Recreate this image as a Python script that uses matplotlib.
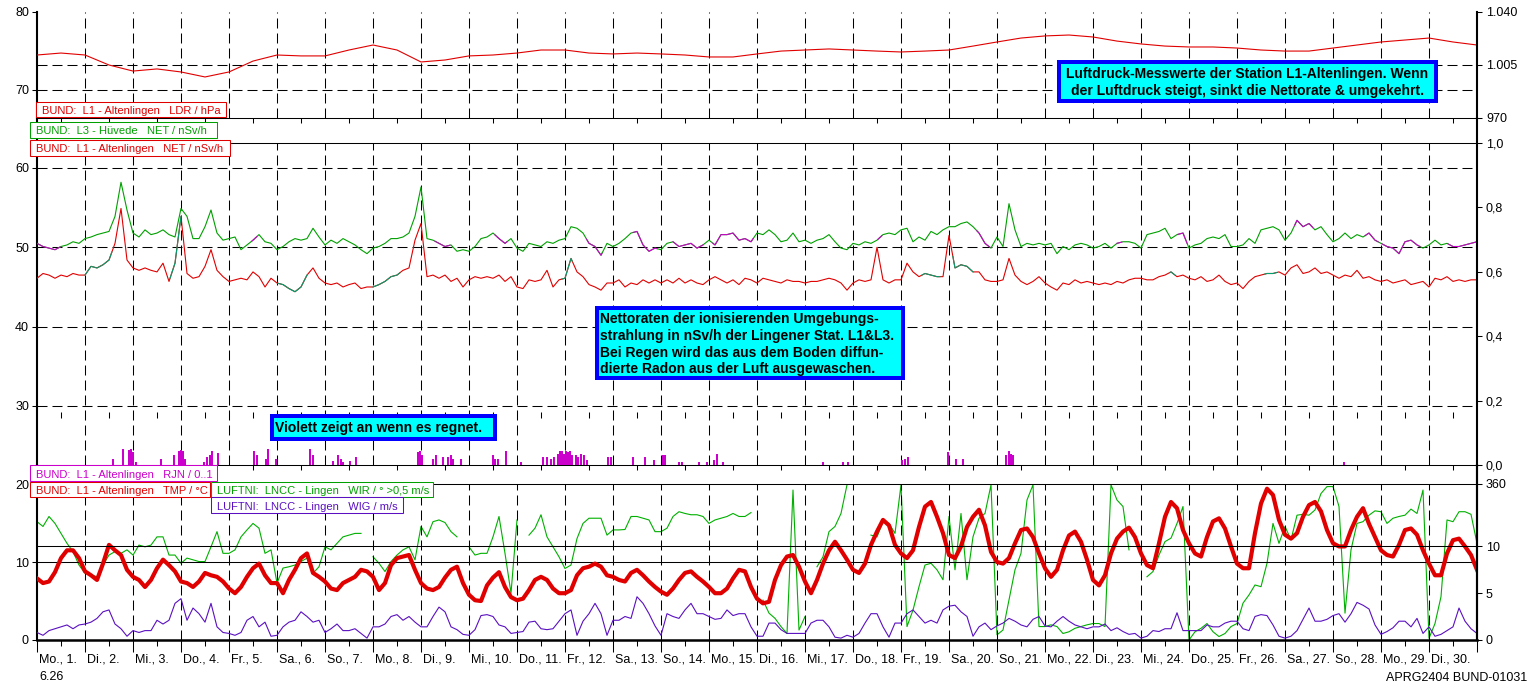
import numpy as np
import matplotlib.pyplot as plt
from matplotlib.patches import Rectangle
import matplotlib.transforms as mtransforms

plt.rcParams['font.family'] = ['Liberation Sans', 'DejaVu Sans']
plt.rcParams['lines.scale_dashes'] = False
plt.rcParams['axes.linewidth'] = 0.75

# --------------------------------------
# data, x axis in days from Mo. 1. 00:00
# --------------------------------------
day_labels = ['Mo., 1.', 'Di., 2.', 'Mi., 3.', 'Do., 4.', 'Fr., 5.', 'Sa., 6.', 'So., 7.',
              'Mo., 8.', 'Di., 9.', 'Mi., 10.', 'Do., 11.', 'Fr., 12.', 'Sa., 13.', 'So., 14.',
              'Mo., 15.', 'Di., 16.', 'Mi., 17.', 'Do., 18.', 'Fr., 19.', 'Sa., 20.', 'So., 21.',
              'Mo., 22.', 'Di., 23.', 'Mi., 24.', 'Do., 25.', 'Fr., 26.', 'Sa., 27.', 'So., 28.',
              'Mo., 29.', 'Di., 30.']

# air pressure L1, hPa, every 12 h
pressure_hpa = [1011.6, 1012.9, 1011.6, 1005.0, 1001.0, 1002.4, 1000.4, 997.1, 1000.4, 1007.6,
                1011.6, 1011.0, 1011.0, 1014.9, 1018.2, 1014.9, 1007.0, 1008.3, 1011.0, 1011.6,
                1012.9, 1014.9, 1014.9, 1012.9, 1012.3, 1012.9, 1012.3, 1011.6, 1010.3, 1010.3,
                1012.3, 1014.2, 1014.9, 1015.6, 1014.9, 1014.2, 1013.6, 1014.2, 1014.9, 1017.5,
                1020.2, 1022.8, 1024.2, 1024.8, 1023.5, 1020.8, 1018.9, 1017.5, 1016.9, 1016.9,
                1016.2, 1014.9, 1014.2, 1014.2, 1016.2, 1018.2, 1020.2, 1021.5, 1022.8, 1020.2,
                1018.2]

# net dose rate L3 Hüvede, nSv/h, every 3 h
net_l3 = [50.5, 50.1, 49.9, 49.7, 50.1, 50.3, 50.7, 50.5,
          51.1, 51.3, 51.6, 51.8, 52.0, 53.9, 58.2, 54.7,
          51.8, 51.3, 52.2, 51.6, 51.8, 52.2, 51.6, 51.3,
          54.9, 53.9, 51.1, 51.1, 52.6, 54.7, 51.8, 50.9,
          51.1, 51.3, 49.7, 50.3, 50.9, 51.6, 50.7, 50.5,
          49.7, 50.1, 50.7, 51.1, 50.9, 51.1, 52.4, 51.3,
          50.3, 50.9, 50.5, 51.1, 50.7, 50.3, 49.7, 49.2,
          49.9, 50.1, 50.5, 51.1, 51.1, 51.3, 51.8, 53.9,
          57.6, 51.1, 50.9, 50.5, 50.1, 50.3, 49.5, 49.7,
          49.5, 50.1, 51.1, 51.3, 51.8, 51.1, 50.5, 51.1,
          49.9, 49.5, 50.5, 50.3, 50.1, 50.7, 50.5, 50.9,
          51.1, 52.6, 52.4, 51.8, 50.5, 50.1, 49.0, 50.5,
          50.1, 50.5, 51.1, 51.8, 52.0, 50.3, 49.5, 49.9,
          49.7, 50.5, 50.7, 50.1, 50.3, 50.5, 49.9, 50.3,
          50.9, 50.3, 51.6, 51.6, 51.8, 50.9, 51.1, 50.7,
          51.8, 51.6, 52.2, 51.6, 50.7, 50.9, 51.8, 50.7,
          50.9, 50.5, 50.9, 51.1, 51.6, 50.7, 49.9, 49.7,
          50.5, 50.3, 50.7, 50.5, 50.9, 51.6, 51.8, 51.6,
          52.2, 52.4, 50.7, 51.3, 50.9, 52.0, 51.6, 52.2,
          52.6, 52.6, 53.0, 53.2, 52.6, 51.8, 50.5, 49.9,
          51.3, 50.1, 55.5, 52.2, 50.1, 50.5, 50.3, 50.5,
          50.3, 50.5, 49.2, 50.1, 49.7, 50.3, 50.5, 50.3,
          49.9, 50.1, 50.5, 49.9, 50.5, 50.7, 50.7, 50.5,
          49.9, 51.6, 51.8, 52.0, 52.4, 51.1, 51.6, 51.8,
          49.9, 50.3, 50.5, 51.1, 51.3, 51.1, 51.6, 50.1,
          50.1, 50.3, 51.1, 50.5, 52.2, 52.4, 52.6, 52.2,
          50.9, 51.8, 53.4, 52.6, 53.0, 52.2, 52.6, 51.6,
          50.7, 51.1, 51.8, 51.1, 51.6, 51.3, 51.8, 50.9,
          50.5, 50.1, 49.9, 49.2, 50.7, 50.9, 50.3, 49.9,
          50.3, 50.9, 50.3, 50.5, 50.1, 50.1, 50.3, 50.5,
          50.7]

# net dose rate L1 Altenlingen, nSv/h, every 3 h
net_l1 = [46.1, 46.7, 46.5, 46.1, 46.5, 46.3, 46.7, 46.5,
          46.5, 47.6, 47.4, 47.8, 48.4, 50.5, 54.9, 48.4,
          47.4, 47.1, 47.4, 47.1, 46.9, 48.0, 45.7, 48.0,
          53.9, 46.7, 46.1, 46.3, 47.6, 49.7, 47.1, 46.3,
          45.7, 45.9, 46.1, 45.9, 46.9, 46.3, 45.0, 46.1,
          45.5, 45.3, 44.8, 44.4, 45.0, 46.5, 47.4, 46.1,
          45.5, 45.3, 45.5, 45.0, 45.3, 45.5, 44.8, 45.0,
          45.0, 45.3, 45.7, 46.3, 46.5, 47.1, 47.4, 50.9,
          53.0, 46.3, 46.5, 46.1, 46.5, 45.7, 46.1, 45.0,
          45.9, 46.3, 46.1, 46.3, 46.1, 46.5, 45.7, 46.3,
          45.0, 44.8, 45.9, 45.7, 45.9, 47.1, 45.0, 45.9,
          46.1, 48.6, 46.9, 46.3, 45.3, 45.0, 44.6, 45.5,
          45.5, 45.9, 45.0, 45.5, 45.3, 45.9, 45.5, 45.9,
          45.5, 45.9, 45.5, 46.1, 45.5, 45.9, 45.5, 45.3,
          45.9, 46.3, 45.9, 45.5, 45.9, 45.3, 46.1, 45.9,
          45.5, 46.1, 45.9, 45.7, 45.5, 45.9, 45.7, 45.7,
          45.5, 45.7, 45.7, 45.9, 46.1, 45.9, 45.5, 44.6,
          45.5, 45.9, 45.7, 45.9, 50.0, 45.9, 45.5, 45.9,
          45.9, 48.0, 46.9, 46.3, 46.7, 46.5, 46.3, 46.3,
          51.5, 47.4, 47.8, 47.6, 46.9, 46.9, 45.9, 45.7,
          45.7, 45.9, 48.6, 46.5, 45.7, 45.3, 45.7, 46.3,
          45.5, 45.0, 44.6, 45.5, 45.3, 45.9, 45.5, 45.7,
          45.5, 45.3, 45.5, 45.3, 45.7, 45.5, 45.9, 46.1,
          46.1, 45.9, 45.9, 46.3, 46.5, 46.9, 46.3, 46.5,
          46.1, 45.9, 46.3, 45.7, 45.9, 46.5, 45.7, 45.3,
          45.5, 44.8, 45.7, 46.3, 46.5, 46.7, 46.7, 46.9,
          46.5, 47.4, 47.8, 46.7, 46.9, 47.4, 46.7, 46.9,
          46.5, 46.1, 46.5, 46.3, 47.1, 46.1, 46.3, 45.9,
          45.7, 45.9, 45.5, 45.7, 45.9, 45.3, 45.5, 45.7,
          45.0, 46.1, 45.9, 46.3, 45.7, 45.9, 45.7, 45.9,
          45.9]

# time spans (days) where the L3 curve is drawn violet / the L1 curve teal
l3_rain_periods = [(0.0, 0.48), (4.48, 4.58), (8.29, 8.6), (9.54, 9.79), (11.45, 11.77),
                   (12.42, 12.92), (13.25, 13.88), (14.08, 14.92), (17.52, 17.6),
                   (19.58, 19.85), (22.5, 22.6), (23.77, 23.96), (26.2, 26.58),
                   (27.67, 27.94), (28.02, 28.81), (29.4, 30.0)]
l1_teal_periods = [(1.0, 1.56), (2.77, 3.0), (5.02, 5.63), (7.0, 7.56), (10.93, 11.15),
                   (18.44, 18.81), (19.08, 19.5), (23.6, 23.7), (25.58, 25.83)]

# rain L1 (right axis units)
rain_day = [1.56, 1.77, 1.90, 1.94, 1.98, 2.04, 2.56, 2.83, 2.94, 2.98, 3.02, 3.06, 3.46, 3.52,
            3.58, 3.63, 3.75, 4.50, 4.56, 4.75, 4.79, 4.96, 5.67, 5.73, 6.15, 6.25, 6.31, 6.35,
            6.50, 6.63, 7.92, 7.96, 8.00, 8.23, 8.29, 8.44, 8.54, 8.60, 8.65, 8.81, 9.48, 9.52,
            9.58, 9.75, 10.06, 10.52, 10.60, 10.69, 10.75, 10.83, 10.87, 10.92, 10.96, 11.00,
            11.04, 11.08, 11.12, 11.20, 11.25, 11.31, 11.37, 11.43, 11.88, 11.94, 12.40, 12.64,
            12.84, 13.03, 13.07, 13.35, 13.42, 13.78, 13.93, 14.09, 14.14, 14.27, 16.35, 16.78,
            16.87, 18.00, 18.06, 18.13, 18.96, 19.13, 19.28, 20.16, 20.22, 20.28, 20.32, 27.20]
rain_val = [0.019, 0.05, 0.047, 0.05, 0.04, 0.01, 0.019, 0.03, 0.044, 0.047, 0.044, 0.02, 0.01, 0.025,
            0.03, 0.044, 0.037, 0.044, 0.03, 0.019, 0.05, 0.019, 0.05, 0.03, 0.012, 0.03, 0.02, 0.01,
            0.012, 0.025, 0.04, 0.045, 0.03, 0.02, 0.03, 0.025, 0.025, 0.03, 0.02, 0.02, 0.03, 0.02,
            0.02, 0.044, 0.01, 0.025, 0.025, 0.02, 0.025, 0.035, 0.044, 0.044, 0.035, 0.044,
            0.04, 0.044, 0.03, 0.03, 0.025, 0.035, 0.03, 0.015, 0.025, 0.025, 0.025, 0.025,
            0.015, 0.03, 0.03, 0.01, 0.01, 0.01, 0.01, 0.015, 0.035, 0.01, 0.01, 0.01,
            0.01, 0.015, 0.02, 0.025, 0.04, 0.02, 0.02, 0.03, 0.045, 0.035, 0.03, 0.01]

# temperature L1, °C, every 3 h
temp_c = [7.9, 7.3, 7.5, 8.7, 10.5, 11.5, 11.5, 10.5,
          8.8, 8.3, 7.7, 9.8, 12.2, 11.5, 10.9, 9.0,
          8.1, 7.7, 6.8, 7.7, 9.2, 10.3, 9.6, 8.8,
          7.5, 7.3, 6.8, 7.5, 8.6, 8.3, 8.1, 7.5,
          6.6, 6.0, 6.8, 8.1, 9.2, 9.8, 8.3, 7.3,
          7.3, 6.0, 7.7, 9.0, 10.5, 11.1, 8.6, 8.1,
          7.5, 6.6, 6.4, 7.3, 7.7, 8.1, 9.0, 8.8,
          8.1, 6.4, 7.3, 9.6, 10.5, 10.7, 10.9, 9.0,
          7.3, 6.6, 6.4, 6.8, 8.0, 9.0, 9.4, 7.3,
          5.8, 5.1, 5.0, 7.0, 8.0, 8.7, 6.8, 5.5,
          5.1, 5.3, 6.4, 7.7, 8.1, 7.7, 6.6, 6.0,
          6.0, 6.4, 8.3, 9.2, 9.4, 9.8, 9.4, 8.3,
          8.1, 7.7, 7.5, 8.6, 9.0, 8.3, 7.5, 6.8,
          6.2, 5.8, 6.6, 7.7, 8.6, 8.8, 8.1, 7.5,
          6.8, 6.0, 6.0, 6.6, 7.9, 9.0, 8.8, 6.8,
          5.3, 4.7, 4.9, 7.7, 9.6, 10.7, 10.9, 9.4,
          7.5, 6.0, 7.7, 9.8, 11.5, 12.6, 11.5, 10.3,
          9.0, 8.6, 9.8, 12.2, 13.9, 15.4, 14.7, 12.2,
          11.1, 10.5, 11.5, 14.5, 17.1, 17.7, 15.8, 13.7,
          10.9, 10.5, 12.0, 14.5, 15.8, 16.7, 14.7, 11.3,
          10.0, 9.8, 10.5, 12.4, 14.1, 14.3, 13.2, 11.1,
          9.2, 8.1, 9.0, 11.5, 13.4, 13.9, 12.6, 10.3,
          7.7, 7.0, 8.3, 11.1, 13.0, 13.9, 14.4, 13.2,
          11.1, 9.6, 9.2, 12.4, 15.8, 17.7, 16.9, 14.1,
          12.4, 11.1, 10.7, 13.2, 15.2, 15.6, 14.3, 12.0,
          9.8, 9.2, 9.2, 13.7, 17.5, 19.4, 18.6, 15.4,
          13.5, 13.0, 13.7, 15.8, 17.3, 17.7, 16.5, 14.1,
          12.4, 12.0, 12.0, 14.1, 15.8, 16.9, 14.9, 13.2,
          11.5, 10.9, 10.7, 12.2, 14.1, 14.3, 13.5, 11.5,
          9.8, 8.3, 8.3, 11.1, 12.8, 13.0, 12.0, 10.9,
          9.0]

# wind speed Lingen, m/s, every 3 h
wind_ms = [0.8, 0.5, 1.0, 1.2, 1.4, 1.6, 1.2, 1.6,
           1.7, 1.9, 2.3, 3.0, 3.2, 1.7, 1.2, 0.4,
           1.0, 0.8, 1.0, 1.0, 2.1, 1.7, 2.1, 3.9,
           4.4, 2.1, 3.4, 2.8, 1.9, 3.9, 1.4, 0.8,
           0.7, 0.5, 0.8, 2.1, 2.5, 1.4, 1.9, 0.4,
           0.5, 1.4, 1.9, 2.1, 3.0, 2.5, 1.9, 2.1,
           0.8, 1.2, 1.7, 1.0, 1.0, 1.2, 0.7, 0.2,
           1.4, 1.4, 1.7, 2.5, 2.7, 2.1, 2.5, 1.9,
           1.4, 1.4, 2.5, 3.5, 3.0, 1.4, 1.1, 0.6,
           0.5, 1.1, 2.6, 2.7, 2.5, 1.6, 1.4, 0.7,
           0.8, 0.9, 1.9, 2.0, 1.2, 1.1, 1.2, 2.0,
           2.8, 3.2, 0.5, 2.0, 2.8, 3.9, 2.8, 0.5,
           2.1, 2.1, 2.5, 2.3, 4.6, 3.9, 2.8, 1.5,
           0.5, 2.8, 2.5, 2.3, 3.2, 3.9, 2.8, 2.8,
           2.5, 2.2, 2.3, 3.2, 2.6, 2.8, 2.8, 1.4,
           0.4, 0.4, 1.8, 1.8, 1.1, 0.7, 0.7, 0.7,
           0.7, 1.8, 2.1, 2.1, 1.4, 0.3, 0.2, 0.5,
           0.3, 0.7, 1.8, 2.8, 2.8, 1.4, 0.3, 1.8,
           1.8, 2.8, 3.2, 2.5, 1.8, 2.1, 1.8, 3.2,
           3.6, 3.7, 3.0, 2.5, 0.4, 1.4, 1.8, 1.1,
           1.5, 1.8, 2.3, 2.0, 1.6, 1.4, 2.2, 2.5,
           1.5, 1.4, 2.0, 2.5, 2.0, 1.6, 1.4, 1.2,
           1.4, 1.4, 1.7, 1.0, 1.3, 0.9, 0.6, 0.7,
           0.2, 0.4, 1.0, 0.9, 1.2, 1.2, 2.9, 1.0,
           1.0, 1.0, 1.0, 1.6, 1.4, 1.4, 1.8, 2.0,
           2.0, 1.2, 1.0, 2.5, 2.7, 2.6, 1.6, 0.4,
           0.2, 0.4, 1.0, 2.2, 3.4, 2.0, 2.0, 2.2,
           2.6, 2.8, 1.9, 2.8, 4.0, 3.7, 3.3, 1.6,
           0.6, 0.9, 1.3, 2.0, 2.0, 1.4, 2.3, 0.7,
           1.4, 0.4, 0.6, 1.0, 1.4, 3.4, 2.0, 1.2,
           0.7]

# wind direction Lingen, degrees, every 3 h (nan = calm, not drawn)
nan = np.nan
wind_dir = [273, 262, 285, 269, 246, 223, 204, 173,
            154, 150, 146, 173, 196, 204, 200, 208,
            196, 219, 215, 219, 238, 238, 196, 196,
            177, 189, 185, 181, 181, 215, 250, 200,
            200, 208, 238, 254, 269, 258, 200, 208,
            131, 166, 169, 173, 181, 189, 154, 169,
            215, 208, 223, 238, 242, 246, 246, nan,
            192, 177, 158, 181, 196, 208, 215, 185,
            262, 238, 273, 277, 271, 250, 238, nan,
            215, 196, 200, 200, 238, 285, 200, 108,
            277, nan, 242, 258, 289, 238, 215, 192,
            165, 173, 234, 269, 281, 281, 281, 242,
            254, 254, 255, 285, 285, 281, 277, 250,
            250, 258, 285, 296, 292, 289, 289, 285,
            269, 277, 281, 285, 292, 285, 285, 294,
            nan, 92, 62, 50, 31, 15, 346, 23,
            54, nan, 169, 192, 250, 262, 292, 358,
            nan, nan, nan, 242, 238, 273, 269, 246,
            358, 31, 69, 123, 173, 177, 162, 139,
            285, 162, 292, 139, 238, 281, 292, 358,
            12, 23, 92, 162, 200, 323, 358, 31,
            31, 35, 31, 15, 19, 27, 31, 35,
            38, 38, 31, 358, 323, 308, 208, nan,
            nan, 146, 158, 196, 227, 235, 269, 308,
            0, 19, 27, 38, 19, 8, 15, 31,
            38, 85, 104, 127, 123, 177, 269, 223,
            262, 231, 288, 290, 288, 300, 338, 354,
            354, 308, 62, 208, 269, 273, 288, 298,
            296, 269, 281, 285, 288, 302, 292, 346,
            4, 38, 100, 277, 273, 296, 296, 290,
            223]

# --------------------------------------
# layout (pixel based, figure 1531 x 684)
# --------------------------------------
W, H = 1531, 684
fig = plt.figure(figsize=(W / 100, H / 100), dpi=100)
X0, X1 = 37, 1477
PT = 0.72  # points per pixel

RED = '#e00000'
GREEN = '#00a000'
MAGENTA = '#cc00cc'
TEAL = '#00a070'
WGREEN = '#00b000'
PURPLE = '#5a10c0'
DASH = (0, (7.2, 3.6))

t3 = np.arange(len(net_l3)) / 8.0
t12 = np.arange(len(pressure_hpa)) / 2.0
days_inner = np.arange(1, 30)
half_days = np.arange(0.5, 30, 1)


def add_ax(top, bottom, z):
    ax = fig.add_axes([X0 / W, 1 - bottom / H, (X1 - X0) / W, (bottom - top) / H], zorder=z)
    ax.set_facecolor('none')
    ax.set_xlim(0, 30)
    return ax


def left_style(ax, ticks):
    ax.set_yticks(ticks)
    ax.tick_params(axis='y', left=True, right=False, direction='out', length=5 * PT,
                   width=0.75, labelsize=9, pad=3 * PT)
    ax.spines['left'].set_linewidth(1.5)
    ax.spines['right'].set_visible(False)


def right_style(ax, ticks, labels):
    ax.set_yticks(ticks)
    ax.set_yticklabels(labels)
    ax.tick_params(axis='y', right=True, left=False, direction='out', length=5 * PT,
                   width=0.75, labelsize=9, pad=4 * PT)
    for s in ['left', 'top', 'bottom']:
        ax.spines[s].set_visible(False)
    ax.spines['right'].set_linewidth(1.5)


def overlay(ax, t, y, periods, color, lw):
    y = np.asarray(y, dtype=float)
    for a, b in periods:
        m = (t > a) & (t < b)
        tt = np.concatenate([[a], t[m], [b]])
        yy = np.concatenate([[np.interp(a, t, y)], y[m], [np.interp(b, t, y)]])
        ax.plot(tt, yy, color=color, lw=lw, zorder=4)


# ---- top panel: air pressure ----
ax1 = add_ax(12, 118, 1)
ax1.set_ylim(66.4, 80)
left_style(ax1, [70, 80])
ax1.spines['top'].set_visible(False)
ax1.spines['bottom'].set_visible(False)
ax1.set_xticks(half_days)
ax1.tick_params(axis='x', bottom=True, direction='out', length=5 * PT, width=0.75, labelbottom=False)
ax1.axhline(70, color='black', lw=0.75, ls=DASH)
ax1.vlines(days_inner, 66.4, 80, color='black', lw=0.75, ls=DASH)

ax1r = ax1.twinx()
ax1r.set_ylim(970, 1040)
right_style(ax1r, [970, 1005, 1040], ['970', '1.005', '1.040'])
ax1r.axhline(1005, color='black', lw=0.75, ls=DASH)
ax1r.plot(t12, pressure_hpa, color=RED, lw=0.8)

# ---- middle panel: net dose rates ----
ax2 = add_ax(118, 465, 1)
ax2.set_ylim(22.56, 66.3)
left_style(ax2, [30, 40, 50, 60])
ax2.spines['top'].set_linewidth(0.75)
ax2.spines['bottom'].set_linewidth(0.75)
ax2.set_xticks(half_days)
ax2.tick_params(axis='x', bottom=True, direction='out', length=5 * PT, width=0.75, labelbottom=False)
for v in [30, 40, 50, 60]:
    ax2.axhline(v, color='black', lw=0.75, ls=DASH)
ax2.vlines(days_inner, 22.56, 63.15, color='black', lw=0.75, ls=DASH)
sec = ax2.secondary_xaxis((465 - 415) / 347)
sec.set_xticks(half_days)
sec.tick_params(axis='x', direction='inout', length=6 * PT, width=0.75, labelbottom=False,
                labeltop=False)
for s in sec.spines.values():
    s.set_visible(False)

ax2.plot(t3, net_l3, color=GREEN, lw=0.8, zorder=3)
ax2.plot(t3, net_l1, color=RED, lw=0.8, zorder=3)
overlay(ax2, t3, net_l3, l3_rain_periods, MAGENTA, 0.8)
overlay(ax2, t3, net_l1, l1_teal_periods, TEAL, 0.8)

ax2r = ax2.twinx()
ax2r.set_ylim(0, 1.0776)
right_style(ax2r, [0, 0.2, 0.4, 0.6, 0.8, 1.0], ['0,0', '0,2', '0,4', '0,6', '0,8', '1,0'])
ax2r.axhline(1.0, color='black', lw=0.75)
ax2r.bar(rain_day, rain_val, width=1 / 24, align='edge', color=MAGENTA, lw=0)

# ---- bottom panel: temperature and wind ----
ax3 = add_ax(465, 640, 2)
ax3.set_ylim(0, 22.44)
left_style(ax3, [0, 10, 20])
ax3.spines['top'].set_visible(False)
ax3.spines['bottom'].set_linewidth(1.8)
ax3.axhline(10, color='black', lw=0.75)
ax3.axhline(20, color='black', lw=0.75)
ax3.vlines(days_inner, 0, 20, color='black', lw=0.75, ls=DASH)

ax3.set_xticks(np.arange(0, 31))
ax3.set_xticklabels(day_labels + [''])
ax3.set_xticks(half_days, minor=True)
ax3.tick_params(axis='x', which='major', direction='out', length=12 * PT, width=0.75,
                labelsize=9, pad=1 * PT)
ax3.tick_params(axis='x', which='minor', direction='out', length=6 * PT, width=0.75)
offset = mtransforms.ScaledTranslation(2 / 100, 0, fig.dpi_scale_trans)
for lbl in ax3.get_xticklabels():
    lbl.set_horizontalalignment('left')
    lbl.set_transform(lbl.get_transform() + offset)

ax3d = ax3.twinx()
ax3d.set_zorder(1)
ax3d.set_ylim(0, 403.8)
right_style(ax3d, [360], ['360'])
ax3d.plot(t3, wind_dir, color=WGREEN, lw=0.8)

ax3.plot(t3, temp_c, color=RED, lw=3.0, zorder=3)

ax3s = ax3.twinx()
ax3s.set_zorder(3)
ax3s.set_ylim(0, 18.62)
right_style(ax3s, [0, 5, 10], ['0', '5', '10'])
ax3s.axhline(10, color='black', lw=0.75)
ax3s.plot(t3, wind_ms, color=PURPLE, lw=0.8)


# ---- legend boxes and notes (figure pixel positions) ----
def legend_box(x0, y0, x1, y1, text, color):
    fig.add_artist(Rectangle((x0 / W, 1 - y1 / H), (x1 - x0) / W, (y1 - y0) / H,
                             transform=fig.transFigure, fc='white', ec=color, lw=0.75, zorder=20))
    fig.text((x0 + 6) / W, 1 - (y1 - 3.5) / H, text, color=color, fontsize=8,
             ha='left', va='baseline', zorder=21)


def note_box(x0, y0, x1, y1, lines, xt, baselines, ha):
    fig.add_artist(Rectangle(((x0 + 2) / W, 1 - (y1 - 2) / H), (x1 - x0 - 4) / W, (y1 - y0 - 4) / H,
                             transform=fig.transFigure, fc='#00ffff', ec='#0000ff', lw=4 * PT,
                             zorder=20))
    for line, yb in zip(lines, baselines):
        fig.text(xt / W, 1 - yb / H, line, fontsize=10.0, fontweight='bold', color='black',
                 ha=ha, va='baseline', zorder=21)


legend_box(36, 102, 226, 117, 'BUND:  L1 - Altenlingen   LDR / hPa', RED)
legend_box(30, 122, 217, 138, 'BUND:  L3 - Hüvede   NET / nSv/h', GREEN)
legend_box(30, 140, 230, 156, 'BUND:  L1 - Altenlingen   NET / nSv/h', RED)
legend_box(30, 465, 217, 481, 'BUND:  L1 - Altenlingen   RJN / 0..1', MAGENTA)
legend_box(30, 482, 210, 497, 'BUND:  L1 - Altenlingen   TMP / °C', RED)
legend_box(211, 482, 433, 497, 'LUFTNI:  LNCC - Lingen   WIR / ° >0,5 m/s', GREEN)
legend_box(211, 497, 403, 513, 'LUFTNI:  LNCC - Lingen   WIG / m/s', PURPLE)

note_box(1057, 60, 1438, 103,
         ['Luftdruck-Messwerte der Station L1-Altenlingen. Wenn',
          'der Luftdruck steigt, sinkt die Nettorate & umgekehrt.'],
         1247.5, [78.3, 95.0], 'center')
note_box(595, 306, 905, 380,
         ['Nettoraten der ionisierenden Umgebungs-',
          'strahlung in nSv/h der Lingener Stat. L1&L3.',
          'Bei Regen wird das aus dem Boden diffun-',
          'dierte Radon aus der Luft ausgewaschen.'],
         600.5, [323.3, 340.0, 356.7, 373.0], 'left')
note_box(270, 414, 497, 441, ['Violett zeigt an wenn es regnet.'], 275, [431.7], 'left')

fig.text(39 / W, 1 - 680 / H, '6.26', fontsize=9, ha='left', va='baseline')
fig.text(1527 / W, 1 - 681 / H, 'APRG2404 BUND-01031', fontsize=9, ha='right', va='baseline')

fig.savefig('out.png', dpi=100, facecolor='white')
